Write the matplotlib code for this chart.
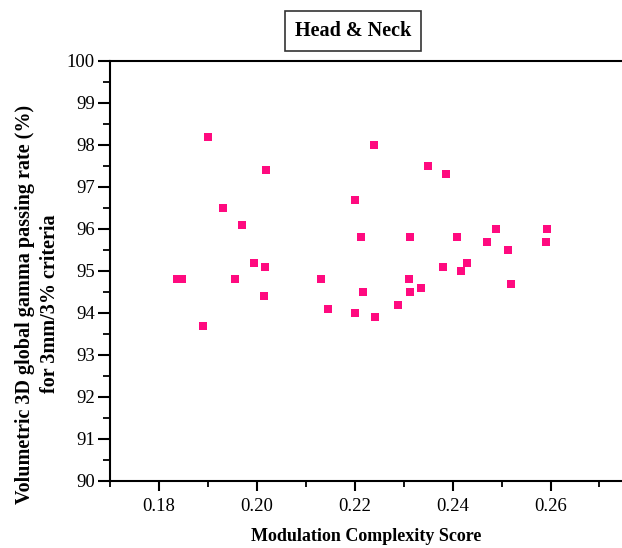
import matplotlib
matplotlib.use('Agg')
import matplotlib.pyplot as plt
from matplotlib.ticker import MultipleLocator

# Modulation complexity score vs gamma passing rate (head & neck plans)
mcs = [0.1836, 0.1847, 0.1890, 0.1900, 0.1931, 0.1956, 0.1970, 0.1994, 0.2015,
       0.2017, 0.2019, 0.2132, 0.2145, 0.2200, 0.2201, 0.2213, 0.2216, 0.2240,
       0.2241, 0.2289, 0.2311, 0.2312, 0.2312, 0.2336, 0.2350, 0.2380, 0.2387,
       0.2409, 0.2417, 0.2430, 0.2470, 0.2488, 0.2513, 0.2520, 0.2590, 0.2593]
gpr = [94.8, 94.8, 93.7, 98.2, 96.5, 94.8, 96.1, 95.2, 94.4,
       95.1, 97.4, 94.8, 94.1, 94.0, 96.7, 95.8, 94.5, 98.0,
       93.9, 94.2, 94.8, 95.8, 94.5, 94.6, 97.5, 95.1, 97.3,
       95.8, 95.0, 95.2, 95.7, 96.0, 95.5, 94.7, 95.7, 96.0]
xtick_vals = [0.18, 0.20, 0.22, 0.24, 0.26]
xtick_labels = ['0.18', '0.20', '0.22', '0.24', '0.26']

plt.rcParams['font.family'] = ['Liberation Serif', 'DejaVu Serif']

fig = plt.figure(figsize=(6.22, 5.48), dpi=100)
ax = fig.add_axes([110/622, 1-481/548, 1-110/622, (481-61)/548])

ax.scatter(mcs, gpr, marker='s', s=26, color='#ff0a7f', linewidths=0, zorder=3)

ax.set_xlim(0.17, 0.2746)
ax.set_ylim(90, 100)
ax.xaxis.set_minor_locator(MultipleLocator(0.01))
ax.yaxis.set_major_locator(MultipleLocator(1))
ax.yaxis.set_minor_locator(MultipleLocator(0.5))
ax.set_xticks(xtick_vals)
ax.set_xticklabels(xtick_labels)

ax.spines['right'].set_visible(False)
for s in ['left', 'bottom', 'top']:
    ax.spines[s].set_linewidth(1.5)
ax.tick_params(which='major', direction='out', width=1.5, labelsize=13.5)
ax.tick_params(which='minor', direction='out', width=1.3)
ax.tick_params(axis='x', which='major', length=7, pad=5)
ax.tick_params(axis='x', which='minor', length=4)
ax.tick_params(axis='y', which='major', length=9, pad=2)
ax.tick_params(axis='y', which='minor', length=5)
ax.tick_params(top=False, right=False, which='both')

ax.set_xlabel('Modulation Complexity Score', fontsize=13, fontweight='bold')
ax.xaxis.set_label_coords(0.5, -0.112)
ax.set_ylabel('Volumetric 3D global gamma passing rate (%)\nfor 3mm/3% criteria',
              fontsize=14.5, fontweight='bold', linespacing=1.35)
ax.yaxis.set_label_coords(-0.098, 0.421)

fig.text(353/622, 1-31/548, 'Head & Neck', fontsize=14.5, fontweight='bold',
         ha='center', va='center',
         bbox=dict(boxstyle='square,pad=0.5', facecolor='white', edgecolor='#333333', linewidth=1.2))

fig.savefig('out.png', dpi=100)
